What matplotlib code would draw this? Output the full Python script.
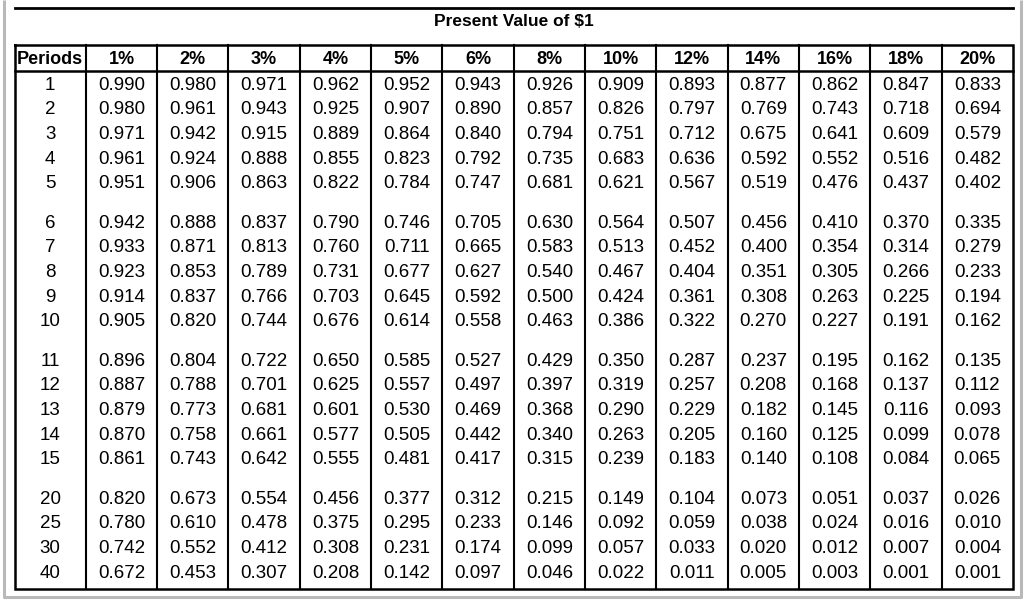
import matplotlib

matplotlib.use("Agg")
import matplotlib.pyplot as plt

title = "Present Value of $1"
rates = ["1%", "2%", "3%", "4%", "5%", "6%", "8%", "10%", "12%", "14%", "16%", "18%", "20%"]
periods = [1, 2, 3, 4, 5, 6, 7, 8, 9, 10, 11, 12, 13, 14, 15, 20, 25, 30, 40]
groups = [0, 0, 0, 0, 0, 1, 1, 1, 1, 1, 2, 2, 2, 2, 2, 3, 3, 3, 3]

pv = [
    [0.990, 0.980, 0.971, 0.962, 0.952, 0.943, 0.926, 0.909, 0.893, 0.877, 0.862, 0.847, 0.833],
    [0.980, 0.961, 0.943, 0.925, 0.907, 0.890, 0.857, 0.826, 0.797, 0.769, 0.743, 0.718, 0.694],
    [0.971, 0.942, 0.915, 0.889, 0.864, 0.840, 0.794, 0.751, 0.712, 0.675, 0.641, 0.609, 0.579],
    [0.961, 0.924, 0.888, 0.855, 0.823, 0.792, 0.735, 0.683, 0.636, 0.592, 0.552, 0.516, 0.482],
    [0.951, 0.906, 0.863, 0.822, 0.784, 0.747, 0.681, 0.621, 0.567, 0.519, 0.476, 0.437, 0.402],
    [0.942, 0.888, 0.837, 0.790, 0.746, 0.705, 0.630, 0.564, 0.507, 0.456, 0.410, 0.370, 0.335],
    [0.933, 0.871, 0.813, 0.760, 0.711, 0.665, 0.583, 0.513, 0.452, 0.400, 0.354, 0.314, 0.279],
    [0.923, 0.853, 0.789, 0.731, 0.677, 0.627, 0.540, 0.467, 0.404, 0.351, 0.305, 0.266, 0.233],
    [0.914, 0.837, 0.766, 0.703, 0.645, 0.592, 0.500, 0.424, 0.361, 0.308, 0.263, 0.225, 0.194],
    [0.905, 0.820, 0.744, 0.676, 0.614, 0.558, 0.463, 0.386, 0.322, 0.270, 0.227, 0.191, 0.162],
    [0.896, 0.804, 0.722, 0.650, 0.585, 0.527, 0.429, 0.350, 0.287, 0.237, 0.195, 0.162, 0.135],
    [0.887, 0.788, 0.701, 0.625, 0.557, 0.497, 0.397, 0.319, 0.257, 0.208, 0.168, 0.137, 0.112],
    [0.879, 0.773, 0.681, 0.601, 0.530, 0.469, 0.368, 0.290, 0.229, 0.182, 0.145, 0.116, 0.093],
    [0.870, 0.758, 0.661, 0.577, 0.505, 0.442, 0.340, 0.263, 0.205, 0.160, 0.125, 0.099, 0.078],
    [0.861, 0.743, 0.642, 0.555, 0.481, 0.417, 0.315, 0.239, 0.183, 0.140, 0.108, 0.084, 0.065],
    [0.820, 0.673, 0.554, 0.456, 0.377, 0.312, 0.215, 0.149, 0.104, 0.073, 0.051, 0.037, 0.026],
    [0.780, 0.610, 0.478, 0.375, 0.295, 0.233, 0.146, 0.092, 0.059, 0.038, 0.024, 0.016, 0.010],
    [0.742, 0.552, 0.412, 0.308, 0.231, 0.174, 0.099, 0.057, 0.033, 0.020, 0.012, 0.007, 0.004],
    [0.672, 0.453, 0.307, 0.208, 0.142, 0.097, 0.046, 0.022, 0.011, 0.005, 0.003, 0.001, 0.001],
]

FONT = ["Liberation Sans", "DejaVu Sans"]

fig = plt.figure(figsize=(10.24, 6.02), dpi=100)
ax = fig.add_axes([0, 0, 1, 1])
ax.set_xlim(0, 1024)
ax.set_ylim(602, 0)
ax.axis("off")

# table geometry in pixel space
left, right = 14.5, 1013
top_line, head_top, head_bot, bottom = 7.5, 45, 71, 589
ncols = len(rates) + 1
colw = (right - left) / ncols
row_h, group_gap, first_row = 24.7, 14.5, 85

# gray outer frame
ax.plot([3.5, 3.5, 1021, 1021], [0, 597, 597, 0], color="#b9b9b9", lw=2.2, solid_capstyle="butt")

# title + rule
ax.plot([left, right], [top_line, top_line], color="black", lw=2)
ax.text((left + right) / 2, 21, title, ha="center", va="center", fontsize=12.5,
        fontweight="bold", family=FONT)

# table frame
ax.plot([left, right, right, left, left], [head_top, head_top, bottom, bottom, head_top],
        color="black", lw=1.8, solid_joinstyle="miter")
ax.plot([left, right], [head_bot, head_bot], color="black", lw=1.8)
for i in range(1, ncols):
    x = left + i * colw
    ax.plot([x, x], [head_top, bottom], color="black", lw=1.5)

# header
headers = ["Periods"] + rates
for j, h in enumerate(headers):
    ax.text(left + (j + 0.5) * colw, (head_top + head_bot) / 2 + 1, h, ha="center", va="center",
            fontsize=13, fontweight="bold", family=FONT)

# body
for i, (p, g, row) in enumerate(zip(periods, groups, pv)):
    y = first_row + i * row_h + g * group_gap
    ax.text(left + 0.5 * colw, y, str(p), ha="center", va="center", fontsize=13.5, family=FONT)
    for j, v in enumerate(row):
        ax.text(left + (j + 1.5) * colw, y, f"{v:.3f}", ha="center", va="center",
                fontsize=13.5, family=FONT)

fig.savefig("out.png", dpi=100, facecolor="white")
plt.close(fig)
